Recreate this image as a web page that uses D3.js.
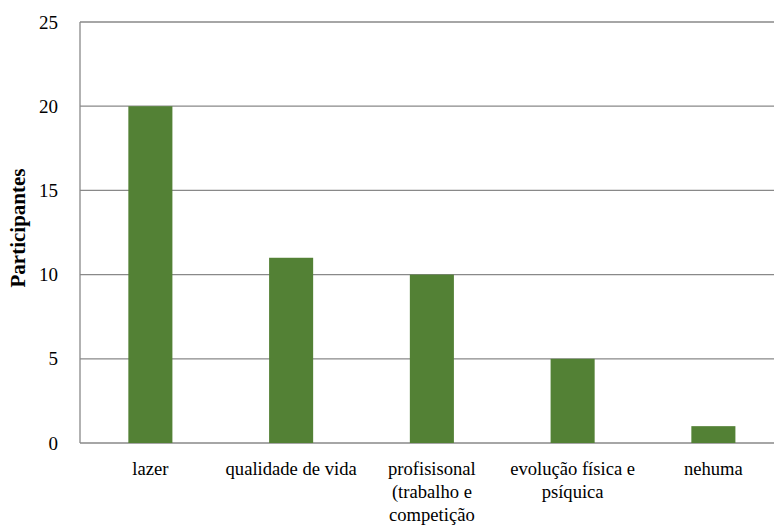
<!DOCTYPE html>
<html><head><meta charset="utf-8">
<script src="https://cdn.jsdelivr.net/npm/d3@7"></script>
<style>body{margin:0;background:#fff}svg{display:block}</style>
</head><body>
<svg id="c" width="774" height="528"></svg>
<script>
const categories = ["lazer", "qualidade de vida", "profisisonal\n(trabalho e\ncompetição", "evolução física e\npsíquica", "nehuma"];
const values = [20, 11, 10, 5, 1];
const yTicks = [0, 5, 10, 15, 20, 25];
const yLabel = "Participantes";

(function () {
const svg = d3.select("#c");
const mLeft = 80, mTop = 22, mBottom = 443, mRight = 783.75;
const font = "'Liberation Serif', 'Times New Roman', serif";

const x = d3.scaleBand().domain(categories).range([mLeft, mRight]).paddingInner(0.687).paddingOuter(0.3435);
const y = d3.scaleLinear().domain([0, 25]).range([mBottom, mTop]);

svg.append("g").selectAll("line").data(yTicks).join("line")
  .attr("x1", mLeft).attr("x2", 774)
  .attr("y1", d => y(d)).attr("y2", d => y(d))
  .attr("stroke", "#898989").attr("stroke-width", 1.3);

svg.append("line").attr("x1", mLeft).attr("x2", mLeft).attr("y1", mTop).attr("y2", mBottom)
  .attr("stroke", "#898989").attr("stroke-width", 1.3);

svg.append("g").selectAll("rect").data(values).join("rect")
  .attr("x", (d, i) => x(categories[i]))
  .attr("width", x.bandwidth())
  .attr("y", d => y(d))
  .attr("height", d => y(0) - y(d))
  .attr("fill", "#538135");

const yAxis = d3.axisLeft(y).tickValues(yTicks).tickSize(0).tickPadding(22);
const ga = svg.append("g").attr("transform", `translate(${mLeft},0)`).call(yAxis)
  .attr("font-family", font).attr("font-size", 19);
ga.select(".domain").remove();
ga.selectAll("text").attr("fill", "#000");

const xl = svg.append("g").selectAll("text").data(categories).join("text")
  .attr("text-anchor", "middle")
  .attr("font-family", font).attr("font-size", 18.6).attr("fill", "#000")
  .attr("transform", d => `translate(${x(d) + x.bandwidth() / 2},${475})`);
xl.each(function(d) {
  const lines = d.split("\n");
  d3.select(this).selectAll("tspan").data(lines).join("tspan")
    .attr("x", 0).attr("dy", (l, i) => i === 0 ? 0 : 23).text(l => l);
});

svg.append("text").attr("transform", `translate(25,228) rotate(-90)`)
  .attr("text-anchor", "middle").attr("font-family", font).attr("font-size", 21)
  .attr("font-weight", "bold").text(yLabel);
})();
</script>
</body></html>
